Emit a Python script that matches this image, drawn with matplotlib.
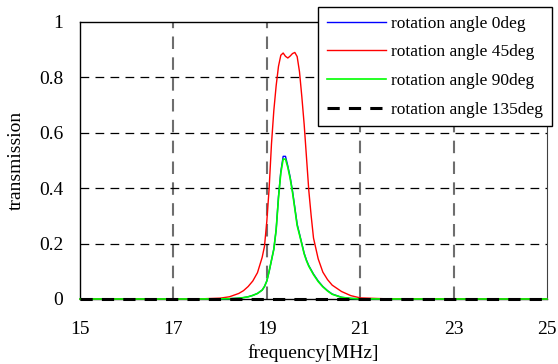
import matplotlib
matplotlib.use("Agg")
import matplotlib.pyplot as plt

plt.rcParams["font.family"] = ["Liberation Serif", "DejaVu Serif"]

# frequency samples (MHz)
freq = [15, 17.5, 18.0, 18.2, 18.4, 18.5, 18.6, 18.7, 18.8, 18.9, 18.95,
        19.0, 19.05, 19.1, 19.15, 19.2, 19.25, 19.3, 19.35, 19.4, 19.45,
        19.5, 19.55, 19.6, 19.65, 19.7, 19.75, 19.8, 19.85, 19.9, 19.95,
        20.0, 20.1, 20.2, 20.3, 20.4, 20.6, 20.8, 21.0, 21.5, 25]

trans_0 = [0, 0, 0.0005, 0.001, 0.003, 0.005, 0.008, 0.013, 0.02, 0.032, 0.045,
           0.065, 0.10, 0.14, 0.18, 0.25, 0.37, 0.46, 0.515, 0.515, 0.48,
           0.44, 0.39, 0.33, 0.27, 0.235, 0.20, 0.165, 0.14, 0.12, 0.105,
           0.09, 0.065, 0.045, 0.03, 0.018, 0.006, 0.002, 0.0005, 0, 0]

trans_45 = [0, 0, 0.003, 0.008, 0.02, 0.03, 0.045, 0.065, 0.095, 0.15, 0.19,
            0.28, 0.40, 0.56, 0.68, 0.77, 0.84, 0.88, 0.888, 0.876, 0.87,
            0.877, 0.886, 0.89, 0.875, 0.82, 0.73, 0.63, 0.51, 0.39, 0.30,
            0.22, 0.145, 0.097, 0.07, 0.05, 0.027, 0.012, 0.004, 0.001, 0]

trans_90 = [0, 0, 0.0005, 0.001, 0.003, 0.005, 0.008, 0.013, 0.02, 0.032, 0.045,
            0.065, 0.10, 0.14, 0.18, 0.25, 0.365, 0.455, 0.505, 0.505, 0.475,
            0.435, 0.385, 0.325, 0.265, 0.232, 0.198, 0.163, 0.138, 0.118, 0.103,
            0.088, 0.063, 0.044, 0.029, 0.017, 0.006, 0.002, 0.0005, 0, 0]

trans_135 = [0] * len(freq)

labels = ["rotation angle 0deg", "rotation angle 45deg",
          "rotation angle 90deg", "rotation angle 135deg"]

x_ticks = [15, 17, 19, 21, 23, 25]
y_ticks = [0, 0.2, 0.4, 0.6, 0.8, 1]
y_tick_labels = ["0", "0.2", "0.4", "0.6", "0.8", "1"]

fig = plt.figure(figsize=(5.58, 3.64), dpi=100)
ax = fig.add_axes([0.1434, 0.1786, 0.8369, 0.761])

for x in x_ticks[1:-1]:
    ax.axvline(x, color="#6e6e6e", lw=1.5, dashes=(6, 4), zorder=1)
for y in y_ticks[1:-1]:
    ax.axhline(y, color="black", lw=0.9, dashes=(7, 5), zorder=1)

ax.plot(freq, trans_0, color="#0000ff", lw=1.0, label=labels[0], clip_on=False, zorder=3)
ax.plot(freq, trans_45, color="#ff0000", lw=1.0, label=labels[1], clip_on=False, zorder=3)
ax.plot(freq, trans_90, color="#00ff00", lw=1.2, label=labels[2], clip_on=False, zorder=4)
ax.plot(freq, trans_135, color="black", lw=2.2, dashes=(4, 3), label=labels[3],
        clip_on=False, zorder=5)

ax.set_xlim(15, 25)
ax.set_ylim(0, 1)
ax.set_xticks(x_ticks)
ax.set_yticks(y_ticks)
ax.set_yticklabels(y_tick_labels)
ax.tick_params(length=0, labelsize=14)
ax.tick_params(axis="x", pad=16)
ax.tick_params(axis="y", pad=12)

for side in ["left", "bottom", "top"]:
    ax.spines[side].set_color("black")
    ax.spines[side].set_linewidth(1.0)
ax.spines["right"].set_color("#404040")

ax.set_xlabel("frequency[MHz]", fontsize=14, labelpad=4)
ax.set_ylabel("transmission", fontsize=14, labelpad=10)

leg = ax.legend(loc="upper left", bbox_to_anchor=(0.570, 0.981),
                bbox_transform=fig.transFigure, borderaxespad=0,
                fontsize=12.5, handlelength=3.4, handletextpad=0.3,
                labelspacing=0.72, borderpad=0.5, fancybox=False,
                framealpha=1, edgecolor="black")
leg.get_frame().set_linewidth(1.0)
leg.set_zorder(10)

fig.savefig("out.png", dpi=100)
